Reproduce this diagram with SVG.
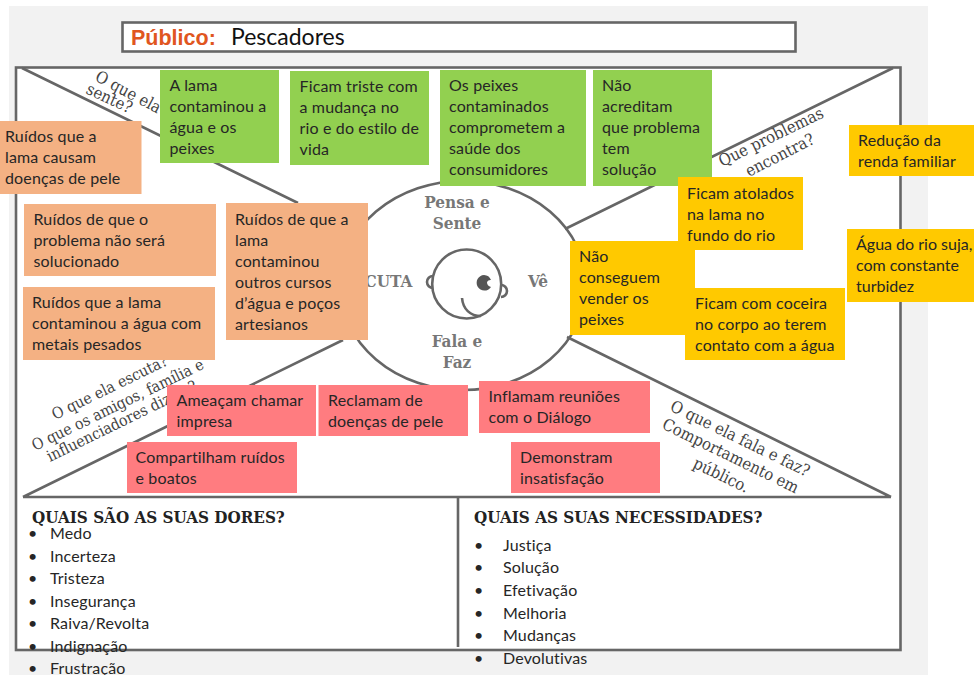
<svg xmlns="http://www.w3.org/2000/svg" width="974" height="675" viewBox="0 0 974 675">
<style>
.ln{fill:none;stroke:#666;stroke-width:2.6}
.n{font-family:"Lato","Open Sans","Liberation Sans",sans-serif;font-size:16px;fill:#262626;letter-spacing:.15px}
.r{font-size:16.500px;fill:#444;font-family:"DejaVu Serif Condensed","DejaVu Serif",serif}
.r2{font-size:15.700px}
.c{font-size:17px;fill:#777;font-weight:bold;font-family:"DejaVu Serif Condensed","DejaVu Serif",serif;text-anchor:middle}
.h{font-size:16.900px;fill:#222;font-weight:bold;font-family:"DejaVu Serif Condensed","DejaVu Serif",serif}
.g{fill:#92D050}.o{fill:#F4B183}.y{fill:#FFC900}.p{fill:#FF7C80}
</style>
<rect width="974" height="675" fill="#fff"/>
<rect x="9" y="6" width="919" height="669" fill="#f2f2f2"/>
<g id="title">
<rect class="ln" x="122.500" y="22.500" width="673" height="29" style="fill:#fff"/>
<text x="131" y="45" font-family="'Liberation Sans',Arial,sans-serif" font-size="21.500" font-weight="bold" fill="#E0561F">Público:</text>
<text x="231" y="45" font-family="Lato,'Liberation Sans',sans-serif" font-size="23" fill="#111">Pescadores</text>
</g>
<g id="frame">
<rect class="ln" x="16" y="67.500" width="884.500" height="582.500" style="fill:#fff"/>
</g>
<g id="connectors">
<path class="ln" d="M22 68L298 203M893 68L565 229M23 497L343 340M567 337L891 497M23 497H891M458 497V647"/>
<ellipse class="ln" cx="463" cy="285.500" rx="123" ry="104.500"/>
</g>
<g id="center">
<circle class="ln" cx="466.700" cy="284" r="34.500"/>
<path class="ln" d="M433 276A5.500 5.500 0 0 0 433 288M501 285A5.500 5.500 0 0 1 501 297M462 298C463 309 470 316 481 316"/>
<path d="M484 275a7.800 7.800 0 1 0 7 12a5 5 0 0 1 -4 -5a4 4 0 0 1 4 -2a7.800 7.800 0 0 0 -7 -5z" fill="#555"/>
<text class="c" x="457" y="208">Pensa e</text><text class="c" x="457" y="229">Sente</text>
<text class="c" x="388.500" y="287">CUTA</text><text class="c" x="538" y="287">Vê</text>
<text class="c" x="457" y="347">Fala e</text><text class="c" x="457" y="368">Faz</text>
</g>
<g id="labels">
<text class="r" transform="translate(94 80) rotate(28)">O que ela</text>
<text class="r" transform="translate(85 93) rotate(25)">sente?</text>
<text class="r" transform="translate(722 167) rotate(-26)">Que problemas</text>
<text class="r" transform="translate(749 177) rotate(-27)">encontra?</text>
<text class="r r2" transform="translate(55 420) rotate(-26)">O que ela escuta?</text>
<text class="r r2" transform="translate(35 451) rotate(-26)">O que os amigos, família e</text>
<text class="r r2" transform="translate(50 462) rotate(-26)">influenciadores dizem?</text>
<text class="r" transform="translate(669 410) rotate(26)">O que ela fala e faz?</text>
<text class="r" transform="translate(661 428) rotate(26)">Comportamento em</text>
<text class="r" transform="translate(692 467) rotate(26)">público.</text>
</g>
<g id="n-lama"><rect class="g" x="160" y="70" width="119" height="93"/><text class="n" x="169.500" y="90.500">A lama<tspan x="169.500" dy="21">contaminou a</tspan><tspan x="169.500" dy="21">água e os</tspan><tspan x="169.500" dy="21">peixes</tspan></text></g>
<g id="n-triste"><rect class="g" x="290" y="71" width="139" height="94"/><text class="n" x="299.500" y="92">Ficam triste com<tspan x="299.500" dy="21">a mudança no</tspan><tspan x="299.500" dy="21">rio e do estilo de</tspan><tspan x="299.500" dy="21">vida</tspan></text></g>
<g id="n-peixes"><rect class="g" x="440" y="70" width="146" height="116"/><text class="n" x="449" y="91">Os peixes<tspan x="449" dy="21">contaminados</tspan><tspan x="449" dy="21">comprometem a</tspan><tspan x="449" dy="21">saúde dos</tspan><tspan x="449" dy="21">consumidores</tspan></text></g>
<g id="n-acreditam"><rect class="g" x="593" y="70" width="119" height="116"/><text class="n" x="602" y="91">Não<tspan x="602" dy="21">acreditam</tspan><tspan x="602" dy="21">que problema</tspan><tspan x="602" dy="21">tem</tspan><tspan x="602" dy="21">solução</tspan></text></g>
<g id="n-ruidos1"><rect class="o" x="0" y="121" width="141.500" height="73"/><text class="n" x="5" y="142">Ruídos que a<tspan x="5" dy="21">lama causam</tspan><tspan x="5" dy="21">doenças de pele</tspan></text></g>
<g id="n-ruidos2"><rect class="o" x="24" y="204" width="192" height="72"/><text class="n" x="33.500" y="224.500">Ruídos de que o<tspan x="33.500" dy="21">problema não será</tspan><tspan x="33.500" dy="21">solucionado</tspan></text></g>
<g id="n-ruidos3"><rect class="o" x="23" y="287" width="192" height="73"/><text class="n" x="32" y="307.500">Ruídos que a lama<tspan x="32" dy="21">contaminou a água com</tspan><tspan x="32" dy="21">metais pesados</tspan></text></g>
<g id="n-ruidos4"><rect class="o" x="226" y="203" width="142" height="137"/><text class="n" x="235" y="224.500">Ruídos de que a<tspan x="235" dy="21">lama</tspan><tspan x="235" dy="21">contaminou</tspan><tspan x="235" dy="21">outros cursos</tspan><tspan x="235" dy="21">d’água e poços</tspan><tspan x="235" dy="21">artesianos</tspan></text></g>
<g id="n-renda"><rect class="y" x="849" y="125" width="125" height="51"/><text class="n" x="858" y="146">Redução da<tspan x="858" dy="21">renda familiar</tspan></text></g>
<g id="n-atolados"><rect class="y" x="678" y="177" width="125" height="73"/><text class="n" x="687" y="198.500">Ficam atolados<tspan x="687" dy="21">na lama no</tspan><tspan x="687" dy="21">fundo do rio</tspan></text></g>
<g id="n-vender"><rect class="y" x="570" y="241" width="125" height="94"/><text class="n" x="579" y="262">Não<tspan x="579" dy="21">conseguem</tspan><tspan x="579" dy="21">vender os</tspan><tspan x="579" dy="21">peixes</tspan></text></g>
<g id="n-agua"><rect class="y" x="847" y="229" width="127" height="73"/><text class="n" x="856" y="250" style="letter-spacing:0">Água do rio suja,<tspan x="856" dy="21">com constante</tspan><tspan x="856" dy="21">turbidez</tspan></text></g>
<g id="n-coceira"><rect class="y" x="685" y="288" width="160" height="72"/><text class="n" x="695" y="309">Ficam com coceira<tspan x="695" dy="21">no corpo ao terem</tspan><tspan x="695" dy="21">contato com a água</tspan></text></g>
<g id="n-impresa"><rect class="p" x="167" y="385" width="149" height="51"/><text class="n" x="176.500" y="406">Ameaçam chamar<tspan x="176.500" dy="21">impresa</tspan></text></g>
<g id="n-reclamam"><rect class="p" x="318.500" y="385" width="149.500" height="51"/><text class="n" x="328" y="406">Reclamam de<tspan x="328" dy="21">doenças de pele</tspan></text></g>
<g id="n-inflamam"><rect class="p" x="479" y="381" width="171" height="52"/><text class="n" x="488.500" y="402">Inflamam reuniões<tspan x="488.500" dy="21">com o Diálogo</tspan></text></g>
<g id="n-boatos"><rect class="p" x="127" y="442" width="170" height="51"/><text class="n" x="135.500" y="463">Compartilham ruídos<tspan x="135.500" dy="21">e boatos</tspan></text></g>
<g id="n-insatisfacao"><rect class="p" x="511" y="442" width="149" height="51"/><text class="n" x="520" y="463">Demonstram<tspan x="520" dy="21">insatisfação</tspan></text></g>
<g id="dores">
<text class="h" x="32" y="523">QUAIS SÃO AS SUAS DORES?</text>
<text class="n" x="28" y="539">•</text><text class="n" x="50" y="539">Medo</text>
<text class="n" x="28" y="562">•</text><text class="n" x="50" y="562">Incerteza</text>
<text class="n" x="28" y="584">•</text><text class="n" x="50" y="584">Tristeza</text>
<text class="n" x="28" y="607">•</text><text class="n" x="50" y="607">Insegurança</text>
<text class="n" x="28" y="629">•</text><text class="n" x="50" y="629">Raiva/Revolta</text>
<text class="n" x="28" y="652">•</text><text class="n" x="50" y="652">Indignação</text>
<text class="n" x="28" y="674">•</text><text class="n" x="50" y="674">Frustração</text>
</g>
<g id="necessidades">
<text class="h" x="474" y="523">QUAIS AS SUAS NECESSIDADES?</text>
<text class="n" x="474" y="551">•</text><text class="n" x="503" y="551">Justiça</text>
<text class="n" x="474" y="573">•</text><text class="n" x="503" y="573">Solução</text>
<text class="n" x="474" y="596">•</text><text class="n" x="503" y="596">Efetivação</text>
<text class="n" x="474" y="619">•</text><text class="n" x="503" y="619">Melhoria</text>
<text class="n" x="474" y="641">•</text><text class="n" x="503" y="641">Mudanças</text>
<text class="n" x="474" y="664">•</text><text class="n" x="503" y="664">Devolutivas</text>
</g>
</svg>
